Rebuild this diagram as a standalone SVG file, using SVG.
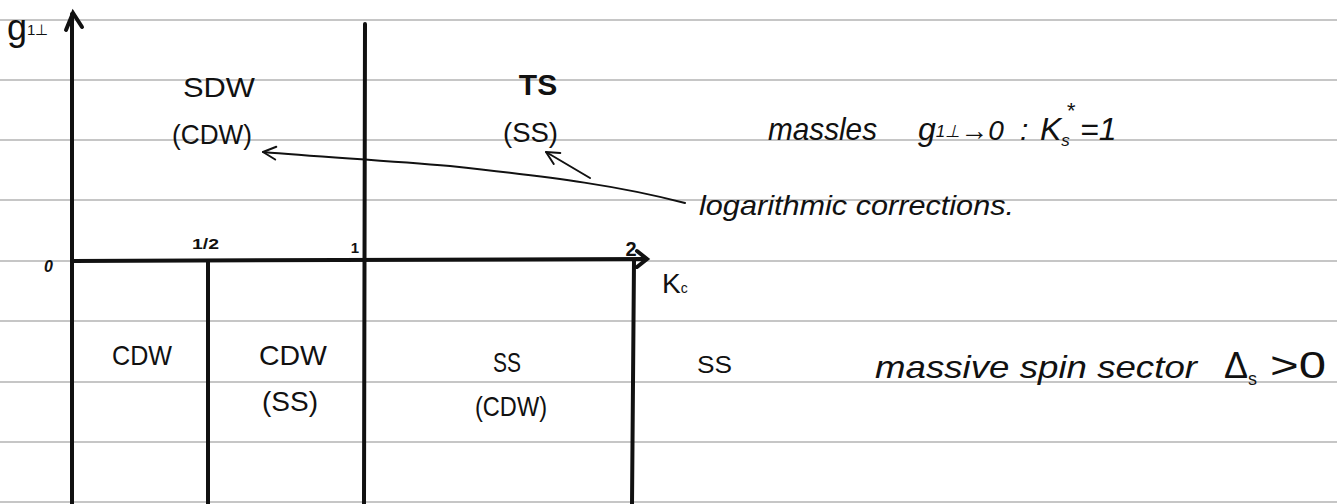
<svg xmlns="http://www.w3.org/2000/svg" width="1337" height="504" viewBox="0 0 1337 504">
<defs>
<marker id="openhead" viewBox="0 0 20 20" refX="18" refY="10" markerWidth="16" markerHeight="16" markerUnits="userSpaceOnUse" orient="auto">
<path d="M2,2 L18,10 L2,18" fill="none" stroke="#111" stroke-width="2.5" stroke-linecap="round" stroke-linejoin="round"/>
</marker>
<style>
.rule{stroke:#c6c6c6;stroke-width:2}
.ax{stroke:#111;stroke-width:4;fill:none;stroke-linecap:round}
.conn{stroke:#111;stroke-width:2;fill:none;stroke-linecap:round}
.lbl{font-family:"Liberation Sans",Arial,sans-serif;fill:#111}
.cap{font-size:28px}
.hand{font-family:"Liberation Sans",Arial,sans-serif;font-style:italic;fill:#111}
.tick{font-family:"Liberation Sans",Arial,sans-serif;font-weight:bold;fill:#111}
</style>
</defs>
<rect width="1337" height="504" fill="#ffffff"/>
<g id="paper-lines">
<line class="rule" x1="0" y1="20" x2="1337" y2="20"/>
<line class="rule" x1="0" y1="80" x2="1337" y2="80"/>
<line class="rule" x1="0" y1="140" x2="1337" y2="140"/>
<line class="rule" x1="0" y1="200" x2="1337" y2="200"/>
<line class="rule" x1="0" y1="261" x2="1337" y2="261"/>
<line class="rule" x1="0" y1="321" x2="1337" y2="321"/>
<line class="rule" x1="0" y1="382" x2="1337" y2="382"/>
<line class="rule" x1="0" y1="442" x2="1337" y2="442"/>
<line class="rule" x1="0" y1="502" x2="1337" y2="502"/>
</g>
<g id="axes">
<line class="ax" x1="72" y1="504" x2="72" y2="14"/>
<path class="ax" d="M66,30 L73,13 L82,27" stroke-width="3"/>
<line class="ax" x1="72" y1="261" x2="646" y2="259"/>
<path class="ax" d="M637,251 L647,259 L637,267" stroke-width="3"/>
<line class="ax" x1="365" y1="24" x2="364" y2="504"/>
<line class="ax" x1="208" y1="261" x2="208" y2="504"/>
<line class="ax" x1="634" y1="261" x2="632" y2="504"/>
</g>
<g id="axis-labels">
<text class="lbl" x="7" y="40" font-size="36">g<tspan font-size="15" dy="-5">1⊥</tspan></text>
<text class="tick" x="44" y="272" font-size="16" font-style="italic">0</text>
<text class="tick" x="192" y="249" font-size="15" textLength="27" lengthAdjust="spacingAndGlyphs">1/2</text>
<text class="tick" x="355" y="253" font-size="15" text-anchor="middle">1</text>
<text class="tick" x="631" y="256" font-size="20" text-anchor="middle">2</text>
<text class="lbl" x="662" y="293" font-size="28">K<tspan font-size="14">c</tspan></text>
</g>
<g id="region-sdw">
<text class="lbl cap" x="183" y="97" textLength="72" lengthAdjust="spacingAndGlyphs">SDW</text>
<text class="lbl cap" x="172" y="144" textLength="80" lengthAdjust="spacingAndGlyphs">(CDW)</text>
</g>
<g id="region-ts">
<text class="lbl" x="538" y="95" font-size="30" text-anchor="middle" font-weight="bold">TS</text>
<text class="lbl cap" x="503" y="142" textLength="55" lengthAdjust="spacingAndGlyphs">(SS)</text>
</g>
<g id="region-cdw-left">
<text class="lbl cap" x="112" y="365" textLength="60" lengthAdjust="spacingAndGlyphs">CDW</text>
</g>
<g id="region-cdw-ss">
<text class="lbl cap" x="259" y="365" textLength="68" lengthAdjust="spacingAndGlyphs">CDW</text>
<text class="lbl cap" x="262" y="411" textLength="56" lengthAdjust="spacingAndGlyphs">(SS)</text>
</g>
<g id="region-ss-cdw">
<text class="lbl cap" x="493" y="372" textLength="28" lengthAdjust="spacingAndGlyphs">SS</text>
<text class="lbl cap" x="475" y="416" textLength="72" lengthAdjust="spacingAndGlyphs">(CDW)</text>
</g>
<g id="note-massless">
<text class="hand" x="768" y="140" font-size="32" textLength="109" lengthAdjust="spacingAndGlyphs">massles</text>
<text class="hand" x="918" y="140" font-size="32">g<tspan font-size="17" dy="-3">1⊥</tspan><tspan dy="3" font-size="28">→0</tspan></text>
<text class="hand" x="1020" y="140" font-size="30">:</text>
<text class="hand" x="1040" y="140" font-size="32">K<tspan font-size="17" dy="6">s</tspan></text>
<text class="hand" x="1066" y="118" font-size="22">*</text>
<text class="hand" x="1080" y="140" font-size="32">=1</text>
</g>
<g id="note-log">
<text class="hand" x="699" y="215" font-size="28" textLength="315" lengthAdjust="spacingAndGlyphs">logarithmic corrections.</text>
</g>
<g id="note-massive">
<text class="lbl" x="697" y="373" font-size="24" textLength="35" lengthAdjust="spacingAndGlyphs">SS</text>
<text class="hand" x="875" y="378" font-size="32" textLength="322" lengthAdjust="spacingAndGlyphs">massive spin sector</text>
<text class="lbl" x="1224" y="378" font-size="36">Δ<tspan font-size="18" dy="7">s</tspan></text>
<text class="lbl" x="1270" y="378" font-size="36" textLength="56" lengthAdjust="spacingAndGlyphs">&gt;0</text>
</g>
<g id="connectors">
<path class="conn" d="M685,203 C620,186 560,178 450,166 C380,160 320,157 263,152" marker-end="url(#openhead)"/>
<path class="conn" d="M590,178 L546,152" marker-end="url(#openhead)"/>
</g>
</svg>
